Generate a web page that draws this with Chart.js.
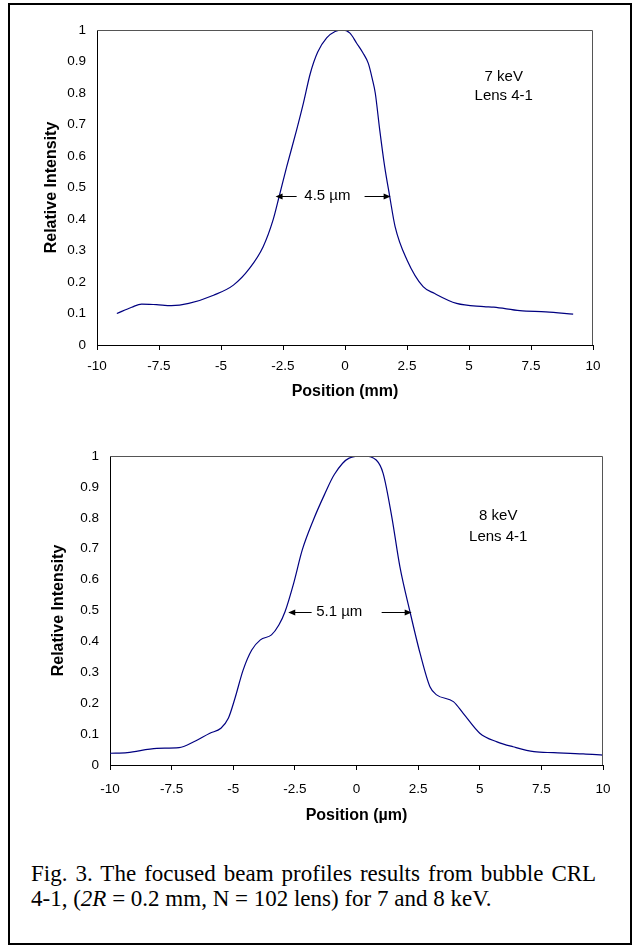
<!DOCTYPE html>
<html>
<head>
<meta charset="utf-8">
<script src="https://cdn.jsdelivr.net/npm/chart.js@4.4.1/dist/chart.umd.min.js"></script>
<style>
  html, body { margin: 0; padding: 0; background: #fff; }
  body { width: 640px; height: 946px; position: relative; overflow: hidden; }
  #frame { position: absolute; left: 8px; top: 3px; width: 620px; height: 938px; border: 2px solid #000; }
  canvas { position: absolute; left: 0; }
  #c1 { top: 0; }
  #c2 { top: 420px; }
  #caption { position: absolute; left: 31px; top: 861px; font-family: "Liberation Serif", "Times New Roman", serif; font-size: 23px; line-height: 25px; color: #000; white-space: nowrap; }
  #caption .l1 { word-spacing: 2.3px; }
</style>
</head>
<body>
<div id="frame"></div>
<canvas id="c1" width="640" height="420"></canvas>
<canvas id="c2" width="640" height="420"></canvas>
<div id="caption"><span class="l1">Fig. 3. The focused beam profiles results from bubble CRL</span><br>4-1, (<i>2R</i> = 0.2 mm, N = 102 lens) for 7 and 8 keV.</div>
<script>
// ---- data ----
const xTicks = [-10, -7.5, -5, -2.5, 0, 2.5, 5, 7.5, 10];
const xTickLabels = ['-10', '-7.5', '-5', '-2.5', '0', '2.5', '5', '7.5', '10'];
const yTicks = [0, 0.1, 0.2, 0.3, 0.4, 0.5, 0.6, 0.7, 0.8, 0.9, 1];
const yTickLabels = ['0', '0.1', '0.2', '0.3', '0.4', '0.5', '0.6', '0.7', '0.8', '0.9', '1'];

const pos7 = [-9.2, -8.6, -8.2, -7.6, -7.0, -6.3, -5.3, -4.5, -3.85, -3.3, -2.9, -2.65, -2.35, -1.95, -1.68, -1.4, -1.1, -0.74, -0.4, -0.12, 0.2, 0.47, 0.72, 0.94, 1.1, 1.22, 1.4, 1.6, 1.8, 2.02, 2.5, 3.15, 3.6, 4.5, 5.6, 6.0, 7.05, 8.1, 9.2];
const int7 = [0.10, 0.12, 0.13, 0.128, 0.125, 0.132, 0.158, 0.19, 0.243, 0.312, 0.397, 0.473, 0.566, 0.683, 0.767, 0.862, 0.93, 0.975, 0.995, 1.0, 0.99, 0.958, 0.928, 0.894, 0.845, 0.8, 0.683, 0.566, 0.473, 0.376, 0.27, 0.185, 0.164, 0.132, 0.122, 0.12, 0.109, 0.105, 0.098];

const pos8 = [-10, -9.3, -8.1, -7.2, -6.6, -5.95, -5.5, -5.2, -4.93, -4.6, -4.25, -3.9, -3.45, -3.15, -2.9, -2.55, -2.2, -1.75, -1.3, -0.9, -0.3, 0.3, 0.8, 1.08, 1.43, 1.76, 2.17, 2.58, 2.98, 3.25, 3.93, 4.33, 5.0, 5.7, 6.35, 7.2, 8.0, 9.2, 10];
const int8 = [0.038, 0.04, 0.054, 0.056, 0.075, 0.103, 0.119, 0.151, 0.216, 0.307, 0.372, 0.405, 0.421, 0.453, 0.496, 0.588, 0.696, 0.793, 0.875, 0.94, 0.993, 1.0, 0.987, 0.944, 0.804, 0.642, 0.496, 0.361, 0.253, 0.227, 0.205, 0.167, 0.103, 0.075, 0.059, 0.043, 0.04, 0.036, 0.032];

// annotation texts and positions (data coordinates)
const label7 = ["7 keV", "Lens 4-1"];
const label7Pos = [[6.4, 0.852], [6.4, 0.79]];
const fwhm7 = "4.5 \u00b5m";
const fwhm7Pos = [-0.71, 0.474];
const arrows7 = [[-1.95, -2.8, 0.474], [0.79, 1.84, 0.474]];

const label8 = ["8 keV", "Lens 4-1"];
const label8Pos = [[5.75, 0.806], [5.75, 0.739]];
const fwhm8 = "5.1 \u00b5m";
const fwhm8Pos = [-0.7, 0.495];
const arrows8 = [[-1.82, -2.77, 0.495], [1.02, 2.24, 0.495]];

// ---- plugin ----
const annot = {
  id: 'annot',
  afterDatasetsDraw(chart, args, o) {
    const {ctx, chartArea: a, scales: {x, y}} = chart;
    ctx.save();
    ctx.strokeStyle = '#555';
    ctx.lineWidth = 1;
    ctx.beginPath();
    ctx.moveTo(a.left, Math.round(a.top) + 0.5);
    ctx.lineTo(Math.round(a.right) - 0.5, Math.round(a.top) + 0.5);
    ctx.lineTo(Math.round(a.right) - 0.5, a.bottom);
    ctx.stroke();
    ctx.fillStyle = '#000';
    ctx.font = '15px "Liberation Sans", Arial, sans-serif';
    ctx.textAlign = 'center';
    ctx.textBaseline = 'middle';
    o.labels.forEach((t, i) => {
      ctx.fillText(t, x.getPixelForValue(o.labelPos[i][0]), y.getPixelForValue(o.labelPos[i][1]));
    });
    ctx.fillText(o.fwhm, x.getPixelForValue(o.fwhmPos[0]), y.getPixelForValue(o.fwhmPos[1]));
    ctx.strokeStyle = '#000';
    ctx.lineWidth = 1;
    o.arrows.forEach(([from, to, yy]) => {
      const x0 = x.getPixelForValue(from), x1 = x.getPixelForValue(to);
      const py = Math.round(y.getPixelForValue(yy)) + 0.5;
      const dir = Math.sign(x1 - x0);
      ctx.beginPath();
      ctx.moveTo(x0, py);
      ctx.lineTo(x1 - dir * 5, py);
      ctx.stroke();
      ctx.beginPath();
      ctx.moveTo(x1, py);
      ctx.lineTo(x1 - dir * 7, py - 3);
      ctx.lineTo(x1 - dir * 7, py + 3);
      ctx.closePath();
      ctx.fill();
    });
    ctx.restore();
  }
};

const FONT = '"Liberation Sans", Arial, sans-serif';

function makeChart(id, xs, ys, xTitle, pad, yWidth, xHeight, xTickPad, ann) {
  const pts = xs.map((v, i) => ({x: v, y: ys[i]}));
  return new Chart(document.getElementById(id), {
    type: 'line',
    data: { datasets: [{ data: pts, borderColor: '#000080', borderWidth: 1.2, pointRadius: 0, fill: false, cubicInterpolationMode: 'monotone' }] },
    options: {
      responsive: false, animation: false, devicePixelRatio: 1,
      layout: { padding: pad },
      plugins: { legend: { display: false }, tooltip: { enabled: false }, annot: ann },
      scales: {
        x: {
          type: 'linear', min: -10, max: 10,
          afterBuildTicks: s => { s.ticks = xTicks.map(v => ({value: v})); },
          afterFit: s => { s.height = xHeight; },
          grid: { display: true, drawOnChartArea: false, drawTicks: true, tickLength: 5, color: '#000' },
          border: { display: true, color: '#000', width: 1 },
          ticks: { color: '#000', padding: xTickPad, maxRotation: 0, autoSkip: false, font: { family: FONT, size: 13.5 },
                   callback: (v, i) => xTickLabels[i] },
          title: { display: true, text: xTitle, color: '#000', padding: 0, font: { family: FONT, size: 16, weight: 'bold' } }
        },
        y: {
          type: 'linear', min: 0, max: 1,
          afterBuildTicks: s => { s.ticks = yTicks.map(v => ({value: v})); },
          afterFit: s => { s.width = yWidth; },
          grid: { display: false, drawTicks: false },
          border: { display: true, color: '#000', width: 1 },
          ticks: { color: '#000', padding: 11, font: { family: FONT, size: 13.5 },
                   callback: (v, i) => yTickLabels[i] },
          title: { display: true, text: 'Relative Intensity', color: '#000', padding: 0, font: { family: FONT, size: 16, weight: 'bold' } }
        }
      }
    },
    plugins: [annot]
  });
}

makeChart('c1', pos7, int7, 'Position (mm)',
  { left: 42, right: 47, top: 30, bottom: 19 }, 55, 56, 8,
  { labels: label7, labelPos: label7Pos, fwhm: fwhm7, fwhmPos: fwhm7Pos, arrows: arrows7 });

makeChart('c2', pos8, int8, 'Position (\u00b5m)',
  { left: 49, right: 37, top: 36, bottom: 15 }, 61, 60, 11,
  { labels: label8, labelPos: label8Pos, fwhm: fwhm8, fwhmPos: fwhm8Pos, arrows: arrows8 });
</script>
</body>
</html>
